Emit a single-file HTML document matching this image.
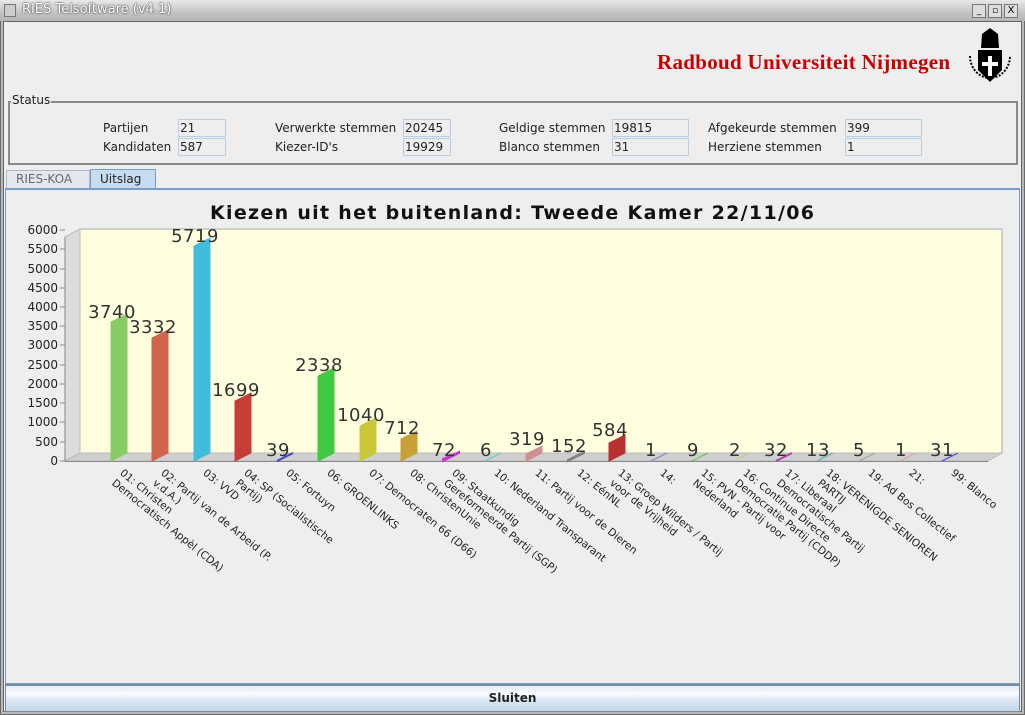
<!DOCTYPE html>
<html><head><meta charset="utf-8"><style>
*{margin:0;padding:0;box-sizing:border-box}
body{width:1025px;height:715px;background:#6a6a6a;position:relative;overflow:hidden;font-family:"DejaVu Sans","Liberation Sans",sans-serif}
.a{position:absolute}
.lbl{position:absolute;font-size:12px;color:#222;line-height:18px}
.box{position:absolute;height:18px;border:1px solid #b8cfe5;font-size:12px;line-height:16px;padding-left:1px;color:#222;background:#eee}
.xl{position:absolute;transform-origin:0 0;transform:rotate(39deg);font-family:"DejaVu Sans",sans-serif;font-size:10.5px;line-height:13px;color:#222;white-space:nowrap}
</style></head><body>
<div class="a" style="left:1px;top:1px;width:1023px;height:713px;background:#b8b8b8"></div>
<div class="a" style="left:0;top:0;width:1025px;height:21px;background:linear-gradient(#e8e8e8,#c4c4c4 60%,#b4b4b4)"></div>
<div class="a" style="left:4px;top:4px;width:12px;height:13px;border:1px solid #777;background:#ccc"></div>
<div class="a" style="left:22px;top:2px;font-size:13px;color:#fff;font-family:'DejaVu Sans',sans-serif;text-shadow:0 0 2px #444,0 0 1px #444">RIES Telsoftware (v4.1)</div>
<div class="a" style="left:972px;top:4px;width:14px;height:14px;border:1px solid #777;background:#ddd;font-size:9px;text-align:center;line-height:12px">_</div>
<div class="a" style="left:988px;top:4px;width:14px;height:14px;border:1px solid #777;background:#ddd;font-size:9px;text-align:center;line-height:12px">▫</div>
<div class="a" style="left:1004px;top:4px;width:14px;height:14px;border:1px solid #777;background:#ddd;font-size:10px;text-align:center;line-height:12px">X</div>
<div class="a" style="left:3px;top:21px;width:1019px;height:691px;background:#eeeeee;border:1px solid #666"></div>
<div class="a" style="left:657px;top:50px;font-family:'Liberation Serif',serif;font-weight:bold;font-size:21px;color:#c80000;letter-spacing:0.3px">Radboud Universiteit Nijmegen</div>
<svg class="a" style="left:964px;top:26px" width="52" height="64">
<path d="M17 22 L18 8 L26 2 L34 8 L35 22 Z" fill="#000"/>
<path d="M14 24 H38 V44 L26 56 L14 44 Z" fill="#000"/>
<path d="M24 30 H28 V50 H24 Z M18 36 H34 V40 H18 Z" fill="#fff"/>
<path d="M6 30 A20 22 0 0 0 46 30" fill="none" stroke="#000" stroke-width="2" stroke-dasharray="2 1.5"/>
</svg>
<div class="a" style="left:8px;top:101px;width:1010px;height:64px;border:2px solid #8a8a8a"></div>
<div class="a" style="left:11px;top:93px;font-size:12px;background:#eee;padding:0 1px;color:#222">Status</div>
<div class="lbl" style="left:103px;top:119px">Partijen</div><div class="box" style="left:178px;top:119px;width:48px">21</div>
<div class="lbl" style="left:103px;top:138px">Kandidaten</div><div class="box" style="left:178px;top:138px;width:48px">587</div>
<div class="lbl" style="left:275px;top:119px">Verwerkte stemmen</div><div class="box" style="left:403px;top:119px;width:48px">20245</div>
<div class="lbl" style="left:275px;top:138px">Kiezer-ID's</div><div class="box" style="left:403px;top:138px;width:48px">19929</div>
<div class="lbl" style="left:499px;top:119px">Geldige stemmen</div><div class="box" style="left:612px;top:119px;width:77px">19815</div>
<div class="lbl" style="left:499px;top:138px">Blanco stemmen</div><div class="box" style="left:612px;top:138px;width:77px">31</div>
<div class="lbl" style="left:708px;top:119px">Afgekeurde stemmen</div><div class="box" style="left:845px;top:119px;width:77px">399</div>
<div class="lbl" style="left:708px;top:138px">Herziene stemmen</div><div class="box" style="left:845px;top:138px;width:77px">1</div>
<div class="a" style="left:6px;top:170px;width:84px;height:19px;border:1px solid #a8b8c8;border-bottom:none;background:#e4e8ec;font-size:12px;color:#667;padding-left:9px;line-height:17px">RIES-KOA</div>
<div class="a" style="left:90px;top:169px;width:66px;height:20px;border:1px solid #7a9cc8;border-bottom:none;background:#c8dcf0;font-size:12px;color:#222;padding-left:9px;line-height:19px">Uitslag</div>
<div class="a" style="left:5px;top:188px;width:1015px;height:496px;border:1px solid #7a9cc8;border-top:2px solid #7a9cc8;background:#eeeeee"></div>
<svg class="a" style="left:0;top:0" width="1025" height="690">
<text x="512" y="219" text-anchor="middle" font-family="DejaVu Sans,sans-serif" font-weight="bold" font-size="19" textLength="604" fill="#111">Kiezen uit het buitenland: Tweede Kamer 22/11/06</text>
<rect x="80" y="229" width="922" height="224" fill="#ffffdf" stroke="#aaa"/>
<polygon points="65,237 80,229 80,453 65,461" fill="#dcdcdc" stroke="#bbb"/>
<polygon points="65,461 80,453 1002,453 988,461" fill="#cfcfcf" stroke="#bbb"/>
<line x1="65" y1="237" x2="65" y2="461" stroke="#888"/>
<line x1="65" y1="461.5" x2="988" y2="461.5" stroke="#888"/>
<g stroke="#888"><line x1="60" y1="230" x2="65" y2="230"/><line x1="60" y1="249" x2="65" y2="249"/><line x1="60" y1="269" x2="65" y2="269"/><line x1="60" y1="288" x2="65" y2="288"/><line x1="60" y1="307" x2="65" y2="307"/><line x1="60" y1="326" x2="65" y2="326"/><line x1="60" y1="345" x2="65" y2="345"/><line x1="60" y1="365" x2="65" y2="365"/><line x1="60" y1="384" x2="65" y2="384"/><line x1="60" y1="403" x2="65" y2="403"/><line x1="60" y1="422" x2="65" y2="422"/><line x1="60" y1="442" x2="65" y2="442"/><line x1="60" y1="461" x2="65" y2="461"/></g>
<g font-family="DejaVu Sans,sans-serif" font-size="12" fill="#222" text-anchor="end">
<text x="58" y="234">6000</text><text x="58" y="253">5500</text><text x="58" y="273">5000</text><text x="58" y="292">4500</text><text x="58" y="311">4000</text><text x="58" y="330">3500</text><text x="58" y="349">3000</text><text x="58" y="369">2500</text><text x="58" y="388">2000</text><text x="58" y="407">1500</text><text x="58" y="426">1000</text><text x="58" y="446">500</text><text x="58" y="465">0</text>
</g>
<g stroke-width="1">
<polygon points="111,461 127,453 127,314 111,322" fill="#88cc66" stroke="#88cc66"/>
<polygon points="152,461 168,453 168,330 152,338" fill="#d0644a" stroke="#d0644a"/>
<polygon points="194,461 210,453 210,238 194,246" fill="#40bcdc" stroke="#40bcdc"/>
<polygon points="235,461 251,453 251,393 235,401" fill="#c83c38" stroke="#c83c38"/>
<polygon points="277,461 293,453 293,453 277,461" fill="#4040c8" stroke="#4040c8" stroke-width="2"/>
<polygon points="318,461 334,453 334,368 318,376" fill="#40c840" stroke="#40c840"/>
<polygon points="360,461 376,453 376,418 360,426" fill="#c8c838" stroke="#c8c838"/>
<polygon points="401,461 417,453 417,431 401,439" fill="#c8a038" stroke="#c8a038"/>
<polygon points="443,461 459,453 459,452 443,459" fill="#c838c8" stroke="#c838c8" stroke-width="2"/>
<polygon points="485,461 501,453 501,453 485,461" fill="#60c8c8" stroke="#60c8c8"/>
<polygon points="526,461 542,453 542,446 526,454" fill="#d09090" stroke="#d09090"/>
<polygon points="568,461 584,453 584,452 568,460" fill="#808080" stroke="#808080" stroke-width="2"/>
<polygon points="609,461 625,453 625,435 609,443" fill="#b83030" stroke="#b83030"/>
<polygon points="651,461 667,453" fill="none" stroke="#8080d0"/>
<polygon points="692,461 708,453" fill="none" stroke="#60c060"/>
<polygon points="734,461 750,453" fill="none" stroke="#c8c880"/>
<polygon points="776,461 792,453" fill="none" stroke="#b040b0" stroke-width="2"/>
<polygon points="817,461 833,453" fill="none" stroke="#60b0b0"/>
<polygon points="859,461 875,453" fill="none" stroke="#a0a0a0"/>
<polygon points="900,461 916,453" fill="none" stroke="#e0a0a0"/>
<polygon points="942,461 958,453" fill="none" stroke="#6060d0" stroke-width="1.5"/>
</g>
<g font-family="DejaVu Sans,sans-serif" font-size="18" fill="#333" text-anchor="middle" letter-spacing="0.5">
<text x="112" y="318">3740</text><text x="153" y="333">3332</text><text x="195" y="242">5719</text><text x="236" y="396">1699</text><text x="278" y="456">39</text><text x="319" y="371">2338</text><text x="361" y="421">1040</text><text x="402" y="434">712</text><text x="444" y="456">72</text><text x="486" y="456">6</text><text x="527" y="445">319</text><text x="569" y="452">152</text><text x="610" y="436">584</text><text x="651" y="456">1</text><text x="693" y="456">9</text><text x="735" y="456">2</text><text x="776" y="456">32</text><text x="818" y="456">13</text><text x="859" y="456">5</text><text x="901" y="456">1</text><text x="942" y="456">31</text>
</g>
</svg>
<div class="xl" style="left:125px;top:467px">01: Christen<br>Democratisch Appèl (CDA)</div>
<div class="xl" style="left:166px;top:467px">02: Partij van de Arbeid (P.<br>v.d.A.)</div>
<div class="xl" style="left:208px;top:467px">03: VVD</div>
<div class="xl" style="left:249px;top:467px">04: SP (Socialistische<br>Partij)</div>
<div class="xl" style="left:291px;top:467px">05: Fortuyn</div>
<div class="xl" style="left:332px;top:467px">06: GROENLINKS</div>
<div class="xl" style="left:374px;top:467px">07: Democraten 66 (D66)</div>
<div class="xl" style="left:415px;top:467px">08: ChristenUnie</div>
<div class="xl" style="left:457px;top:467px">09: Staatkundig<br>Gereformeerde Partij (SGP)</div>
<div class="xl" style="left:499px;top:467px">10: Nederland Transparant</div>
<div class="xl" style="left:540px;top:467px">11: Partij voor de Dieren</div>
<div class="xl" style="left:582px;top:467px">12: EénNL</div>
<div class="xl" style="left:623px;top:467px">13: Groep Wilders / Partij<br>voor de Vrijheid</div>
<div class="xl" style="left:665px;top:467px">14:</div>
<div class="xl" style="left:706px;top:467px">15: PVN - Partij voor<br>Nederland</div>
<div class="xl" style="left:748px;top:467px">16: Continue Directe<br>Democratie Partij (CDDP)</div>
<div class="xl" style="left:790px;top:467px">17: Liberaal<br>Democratische Partij</div>
<div class="xl" style="left:831px;top:467px">18: VERENIGDE SENIOREN<br>PARTIJ</div>
<div class="xl" style="left:873px;top:467px">19: Ad Bos Collectief</div>
<div class="xl" style="left:914px;top:467px">21:</div>
<div class="xl" style="left:956px;top:467px">99: Blanco</div>
<div class="a" style="left:5px;top:684px;width:1015px;height:28px;border:1px solid #7a8ca0;border-top:2px solid #7a8ca0;background:linear-gradient(#e2ebf5,#fafcff 30%,#dce7f2 55%,#c4d6ea);font-size:12px;font-weight:bold;text-align:center;line-height:25px;color:#222">Sluiten</div>
</body></html>
